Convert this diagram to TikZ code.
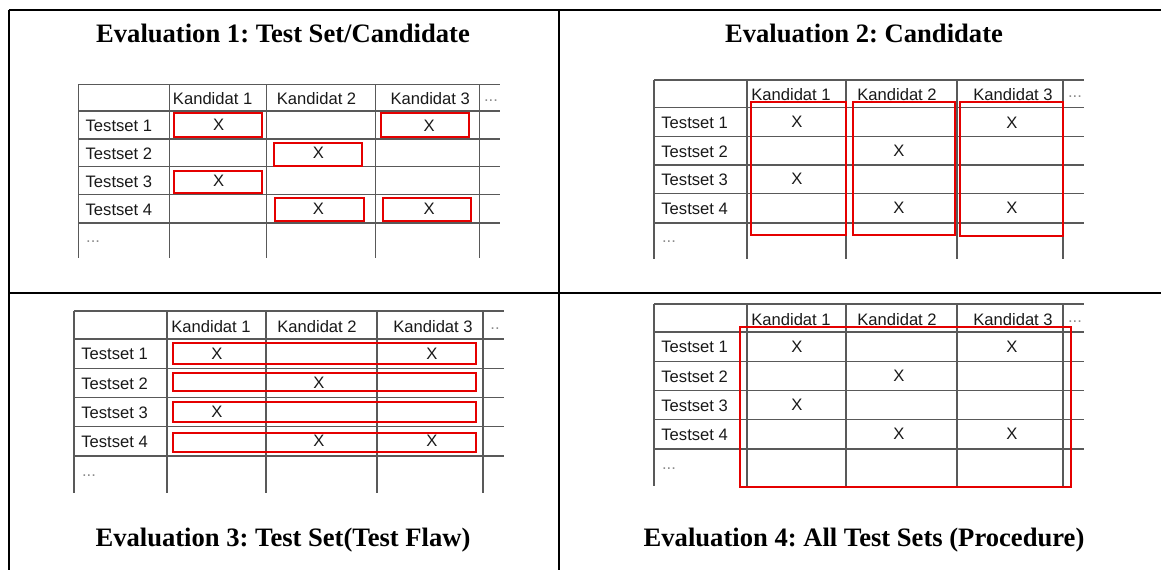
\documentclass[tikz,border=0pt]{standalone}
\usepackage{fontspec}
\setmainfont{Liberation Serif}
\setsansfont{Liberation Sans}
\frenchspacing
\tikzset{
    outerframe/.style={draw=black, line width=1pt},
    tablegrid/.style={draw=black!65, line width=0.7pt},
    markbox/.style={draw=red!90!black, line width=1pt},
    heading/.style={font=\bfseries\fontsize{13.3}{16}\selectfont, inner sep=0pt},
    celltext/.style={font=\sffamily\fontsize{8.3}{10}\selectfont, text=black!90, inner sep=0pt},
    dots/.style={celltext, text=black!45}
}

% one table: grid, headers, row labels and the crosses
\newcommand{\evaltable}[1]{%
    \draw[tablegrid] (0,0) -- (430,0);
    \foreach \y in {27.5,56.5,85,113.5,143}
        \draw[tablegrid] (0,\y) -- (430,\y);
    \foreach \x in {0,93,192,303,409}
        \draw[tablegrid] (\x,0) -- (\x,179);
    \node[celltext] (k1) at (137,15) {Kandidat 1};
    \node[celltext] (k2) at (243,15) {Kandidat 2};
    \node[celltext] (k3) at (359,15) {Kandidat 3};
    \node[dots] (kdots) at (421,17) {#1};
    \foreach \i/\y in {1/42.5,2/71.5,3/100,4/129}
        \node[celltext, anchor=west] (s\i) at (7,\y) {Testset \i};
    \node[dots] (sdots) at (15,162) {...};
    \foreach \n/\x/\y in {a/143/41.75, b/358/42.5, c/245/70.75, d/143/99.25, e/245/128.25, f/358/128.25}
        \node[celltext] (x\n) at (\x,\y) {X};
}

\begin{document}
\begin{tikzpicture}[x=0.5pt, y=-0.5pt]

\useasboundingbox (0,0) rectangle (1161,570);

% Outer frame
\coordinate (tl) at (8.5,10);
\coordinate (tr) at (1161,10);
\coordinate (bl) at (8.5,570);
\coordinate (mt) at (559,10);
\coordinate (mb) at (559,570);
\coordinate (ml) at (8.5,292.5);
\coordinate (mr) at (1161,292.5);
\draw[outerframe] (tl) -- (tr);
\draw[outerframe] (tl) -- (bl);
\draw[outerframe] (mt) -- (mb);
\draw[outerframe] (ml) -- (mr);

% Headings
\node[heading] (title1) at (283,33) {Evaluation 1: Test Set/Candidate};
\node[heading] (title2) at (864,33) {Evaluation 2: Candidate};
\node[heading] (title3) at (283,540) {Evaluation 3: Test Set(Test Flaw)};
\node[heading] (title4) at (864,540) {Evaluation 4: All Test Sets (Procedure)};

% Evaluation 1
\begin{scope}[shift={(78.4,84.3)}, xscale=0.98, yscale=0.97, name prefix=ea-]
    \evaltable{...}
    \draw[markbox] (98,30) rectangle (187,54);
    \draw[markbox] (309,30) rectangle (399,54);
    \draw[markbox] (200,60) rectangle (289,84);
    \draw[markbox] (98,89) rectangle (187,112);
    \draw[markbox] (201,117) rectangle (291,141);
    \draw[markbox] (311,117) rectangle (401,141);
\end{scope}

% Evaluation 2
\begin{scope}[shift={(654,80)}, name prefix=eb-]
    \evaltable{...}
    \draw[markbox] (97,21.7) rectangle (192,155.3);
    \draw[markbox] (198.7,21.7) rectangle (300.8,155.3);
    \draw[markbox] (306.3,22.3) rectangle (408.8,156.3);
\end{scope}

% Evaluation 3
\begin{scope}[shift={(74,311)}, yscale=1.015, name prefix=ec-]
    \evaltable{..}
    \foreach \t/\b in {32/52, 61/79, 89.5/109.5, 120/139}
        \draw[markbox] (99,\t) rectangle (402,\b);
\end{scope}

% Evaluation 4
\begin{scope}[shift={(654,304)}, yscale=1.015, name prefix=ed-]
    \evaltable{...}
    \draw[markbox] (86,22.4) rectangle (417,180);
\end{scope}

\end{tikzpicture}
\end{document}
